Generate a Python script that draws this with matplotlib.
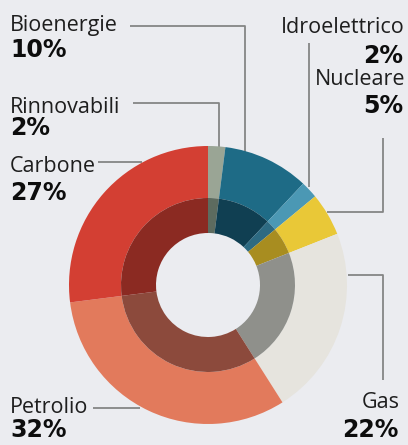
import matplotlib
matplotlib.use("Agg")
import matplotlib.pyplot as plt

# ---- data ----
categories = ["Rinnovabili", "Bioenergie", "Idroelettrico", "Nucleare", "Gas", "Petrolio", "Carbone"]
values = [2, 10, 2, 5, 22, 32, 27]
pct_labels = ["2%", "10%", "2%", "5%", "22%", "32%", "27%"]

outer_colors = ["#9aa595", "#1e6b86", "#4b98b4", "#e9c837", "#e6e4de", "#e27a5c", "#d33f33"]
inner_colors = ["#5d6b5f", "#103f52", "#2d6a82", "#a88d20", "#8f908b", "#8c4a3c", "#8b2a22"]

W, H = 408, 445
BG = "#ebecf0"
fig = plt.figure(figsize=(W / 100, H / 100), dpi=100, facecolor=BG)
ax = fig.add_axes([0, 0, 1, 1])
ax.set_xlim(0, W)
ax.set_ylim(0, H)
ax.set_aspect("equal")
ax.axis("off")
ax.set_facecolor(BG)

def Y(y):
    return H - y

cx, cy = 208, Y(285)
R_out, R_mid, R_in = 139, 87, 52

ax.pie(values, colors=outer_colors, radius=R_out, center=(cx, cy), startangle=90,
       counterclock=False, wedgeprops=dict(width=R_out - R_mid, linewidth=0))
ax.pie(values, colors=inner_colors, radius=R_mid, center=(cx, cy), startangle=90,
       counterclock=False, wedgeprops=dict(width=R_mid - R_in, linewidth=0))
ax.set_xlim(0, W)
ax.set_ylim(0, H)

name_font = dict(family="Open Sans", fontsize=15.5, color="#1e1e1e")
pct_font = dict(family="DejaVu Sans", fontsize=17, fontweight="bold", color="#0d0d0d")

# label layout: (name, x, name baseline, pct baseline, ha)
layout = {
    "Bioenergie": (10, 31, 57, "left"),
    "Rinnovabili": (10, 113, 135, "left"),
    "Carbone": (10, 172, 200, "left"),
    "Idroelettrico": (405, 33, 63, "right"),
    "Nucleare": (405, 85, 113, "right"),
    "Gas": (400, 408, 437, "right"),
    "Petrolio": (10, 413, 437, "left"),
}
for name, pct in zip(categories, pct_labels):
    x, yb, yp, ha = layout[name]
    ax.text(x, Y(yb), name, ha=ha, va="baseline", **name_font)
    xp = x - 2 if ha == "right" else x
    ax.text(xp, Y(yp), pct, ha=ha, va="baseline", **pct_font)

leaders = [
    [(130, 26), (245, 26), (245, 152)],
    [(133, 103), (219, 103), (219, 147)],
    [(98, 162), (142, 162)],
    [(309, 43), (309, 187)],
    [(383, 138), (383, 212), (327, 212)],
    [(348, 275), (383, 275), (383, 380)],
    [(93, 408), (140, 408)],
]
for pts in leaders:
    xs = [p[0] for p in pts]
    ys = [Y(p[1]) for p in pts]
    ax.plot(xs, ys, color="#858585", lw=1.3, solid_capstyle="butt", zorder=0)

fig.savefig("out.png", dpi=100, facecolor=BG)
